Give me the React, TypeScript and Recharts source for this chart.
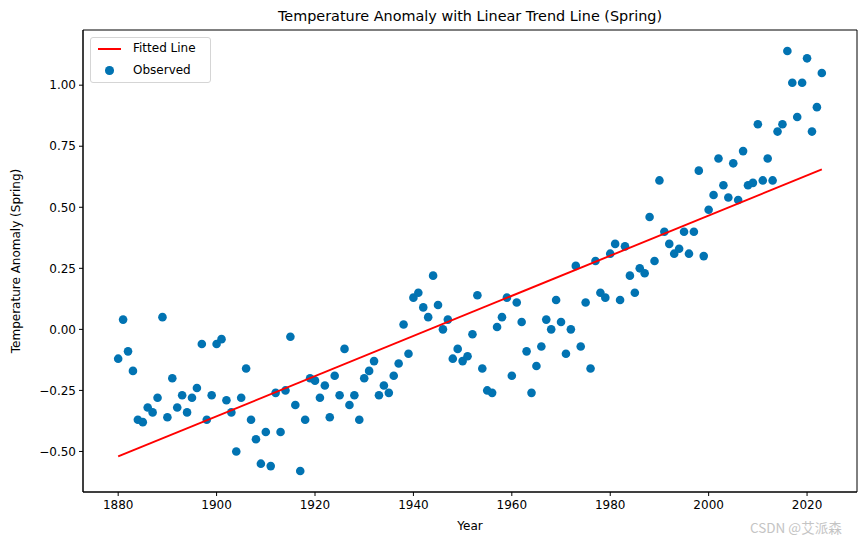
import React from 'react';
import {
  ScatterChart,
  Scatter,
  XAxis,
  YAxis,
  ReferenceArea,
} from 'recharts';

// Spring temperature anomaly, one value per year starting 1880
const START_YEAR = 1880;
const springAnomaly = [
  -0.12, 0.04, -0.09, -0.17, -0.37, -0.38, -0.32, -0.34, -0.28, 0.05,
  -0.36, -0.2, -0.32, -0.27, -0.34, -0.28, -0.24, -0.06, -0.37, -0.27,
  -0.06, -0.04, -0.29, -0.34, -0.5, -0.28, -0.16, -0.37, -0.45, -0.55,
  -0.42, -0.56, -0.26, -0.42, -0.25, -0.03, -0.31, -0.58, -0.37, -0.2,
  -0.21, -0.28, -0.23, -0.36, -0.19, -0.27, -0.08, -0.31, -0.27, -0.37,
  -0.2, -0.17, -0.13, -0.27, -0.23, -0.26, -0.19, -0.14, 0.02, -0.1,
  0.13, 0.15, 0.09, 0.05, 0.22, 0.1, 0.0, 0.04, -0.12, -0.08,
  -0.13, -0.11, -0.02, 0.14, -0.16, -0.25, -0.26, 0.01, 0.05, 0.13,
  -0.19, 0.11, 0.03, -0.09, -0.26, -0.15, -0.07, 0.04, 0.0, 0.12,
  0.03, -0.1, 0.0, 0.26, -0.07, 0.11, -0.16, 0.28, 0.15, 0.13,
  0.31, 0.35, 0.12, 0.34, 0.22, 0.15, 0.25, 0.23, 0.46, 0.28,
  0.61, 0.4, 0.35, 0.31, 0.33, 0.4, 0.31, 0.4, 0.65, 0.3,
  0.49, 0.55, 0.7, 0.59, 0.54, 0.68, 0.53, 0.73, 0.59, 0.6,
  0.84, 0.61, 0.7, 0.61, 0.81, 0.84, 1.14, 1.01, 0.87, 1.01,
  1.11, 0.81, 0.91, 1.05,
];

// fitted trend line end points
const fitYears = [1880, 2023];
const fitValues = [-0.52, 0.655];

const xTicks = [1880, 1900, 1920, 1940, 1960, 1980, 2000, 2020];
const yTicks = [-0.5, -0.25, 0, 0.25, 0.5, 0.75, 1.0];

const X_MIN = 1872.85;
const X_MAX = 2030.15;
const Y_MIN = -0.666;
const Y_MAX = 1.226;

const DOT = '#0173b2';
const FONT = '"DejaVu Sans", sans-serif';

const observed = springAnomaly.map((v, i) => ({ year: START_YEAR + i, value: v }));
const fitted = fitYears.map((y, i) => ({ year: y, value: fitValues[i] }));

const fmtY = (v: number) => (v < 0 ? '\u2212' + Math.abs(v).toFixed(2) : v.toFixed(2));

const Dot = (props: any) => <circle cx={props.cx} cy={props.cy} r={4.3} fill={DOT} />;
const NoDot = () => <g />;

export default function App() {
  const tickStyle = { fill: '#000', fontSize: 12, fontFamily: FONT };
  return (
    <div style={{ position: 'absolute', left: 0, top: 0, width: 866, height: 545, background: '#fff', fontFamily: FONT }}>
      <div
        style={{
          position: 'absolute',
          left: 83,
          width: 774,
          top: 8,
          textAlign: 'center',
          fontSize: 14.4,
          color: '#000',
        }}
      >
        Temperature Anomaly with Linear Trend Line (Spring)
      </div>

      <ScatterChart width={866} height={545} margin={{ top: 30, right: 9, bottom: 23, left: 23 }}>
        <XAxis
          type="number"
          dataKey="year"
          domain={[X_MIN, X_MAX]}
          ticks={xTicks}
          allowDataOverflow
          height={30}
          tick={tickStyle}
          tickSize={4}
          tickMargin={4}
          axisLine={{ stroke: '#000' }}
          tickLine={{ stroke: '#000' }}
        />
        <YAxis
          type="number"
          dataKey="value"
          domain={[Y_MIN, Y_MAX]}
          ticks={yTicks}
          allowDataOverflow
          width={60}
          tick={tickStyle}
          tickFormatter={fmtY}
          tickSize={4}
          tickMargin={3}
          axisLine={{ stroke: '#000' }}
          tickLine={{ stroke: '#000' }}
        />
        <ReferenceArea x1={X_MIN} x2={X_MAX} y1={Y_MIN} y2={Y_MAX} fill="none" stroke="#000" strokeWidth={1} />
        <Scatter data={observed} shape={Dot} isAnimationActive={false} />
        <Scatter
          data={fitted}
          shape={NoDot}
          line={{ stroke: '#ff0000', strokeWidth: 1.9 }}
          isAnimationActive={false}
        />
      </ScatterChart>

      {/* axis titles */}
      <div style={{ position: 'absolute', left: 83, width: 774, top: 519, textAlign: 'center', fontSize: 12, color: '#000' }}>
        Year
      </div>
      <div
        style={{
          position: 'absolute',
          left: 16,
          top: 261,
          transform: 'translate(-50%, -50%) rotate(-90deg)',
          whiteSpace: 'nowrap',
          fontSize: 12,
          color: '#000',
        }}
      >
        Temperature Anomaly (Spring)
      </div>

      {/* legend */}
      <div
        style={{
          position: 'absolute',
          left: 90,
          top: 37,
          width: 119,
          height: 44,
          border: '1px solid #d5d5d5',
          borderRadius: 3,
          background: '#fff',
          fontSize: 12,
          color: '#000',
        }}
      >
        <div style={{ position: 'absolute', left: 7, top: 10, width: 23, height: 2, background: '#ff0000' }} />
        <div style={{ position: 'absolute', left: 42, top: 3 }}>Fitted Line</div>
        <div
          style={{
            position: 'absolute',
            left: 14,
            top: 28,
            width: 8.6,
            height: 8.6,
            borderRadius: '50%',
            background: DOT,
          }}
        />
        <div style={{ position: 'absolute', left: 42, top: 25 }}>Observed</div>
      </div>

      <div
        style={{
          position: 'absolute',
          left: 750,
          top: 517,
          fontSize: 13.5,
          color: '#c4c4c4',
          fontFamily: '"Noto Sans CJK SC", "DejaVu Sans", sans-serif',
        }}
      >
        CSDN @艾派森
      </div>
    </div>
  );
}
